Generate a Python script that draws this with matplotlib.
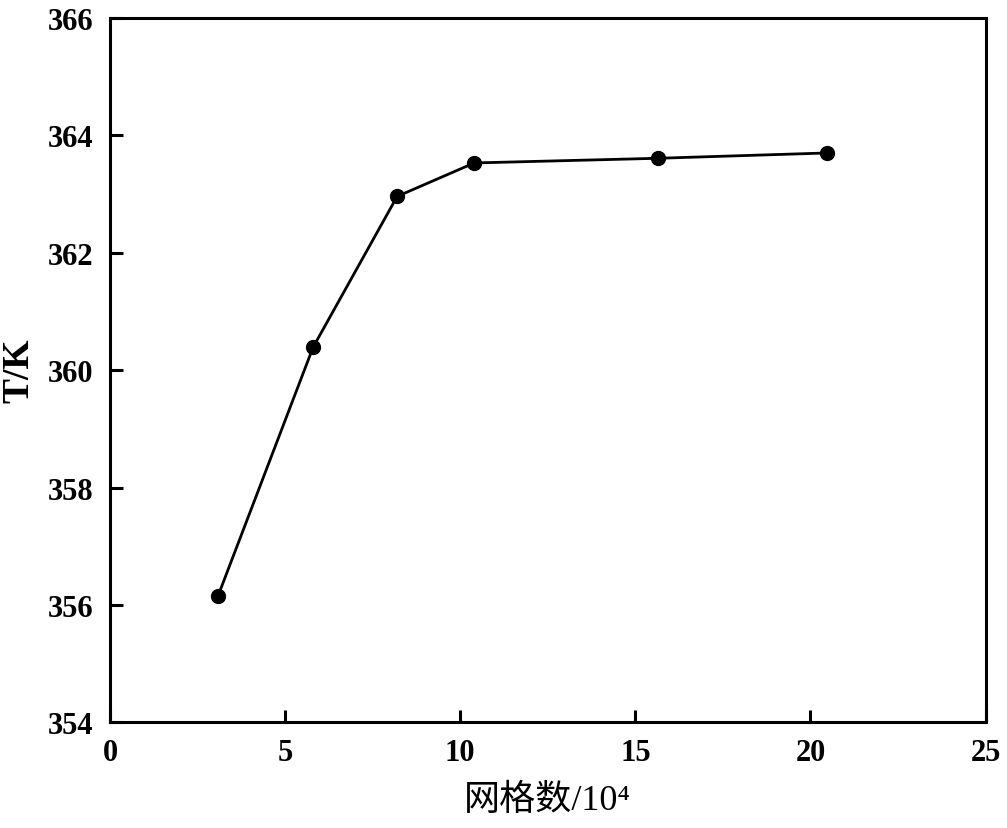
import matplotlib
matplotlib.use('Agg')
import matplotlib.pyplot as plt

# grid count (x 10^4) and temperature
mesh = [3.09, 5.80, 8.20, 10.40, 15.66, 20.46]
temp = [356.16, 360.39, 362.96, 363.53, 363.61, 363.70]

xticks = [0, 5, 10, 15, 20, 25]
yticks = [354, 356, 358, 360, 362, 364, 366]

fig = plt.figure(figsize=(10.07, 8.29), dpi=100)
ax = fig.add_axes([0.1092, 0.1275, 0.8695, 0.8496])

ax.plot(mesh, temp, color='black', linewidth=2.0, marker='o', markersize=10)

ax.set_xlim(0, 25)
ax.set_ylim(354, 366)
ax.set_xticks(xticks)
ax.set_yticks(yticks)

for s in ax.spines.values():
    s.set_linewidth(2.2)
ax.tick_params(direction='in', length=9, width=2.2)
ax.tick_params(axis='x', pad=11)
ax.tick_params(axis='y', pad=12)
for lab in ax.get_xticklabels() + ax.get_yticklabels():
    lab.set_family('Liberation Serif')
    lab.set_fontweight('bold')
    lab.set_fontsize(22)

ax.set_ylabel('T/K', family='Liberation Serif', fontweight='bold', fontsize=27, labelpad=8)
ax.set_xlabel('网格数/10⁴', family=['Liberation Serif', 'Noto Sans CJK SC', 'DejaVu Sans'],
              fontsize=26, labelpad=12)

fig.savefig('out.png', dpi=100)
